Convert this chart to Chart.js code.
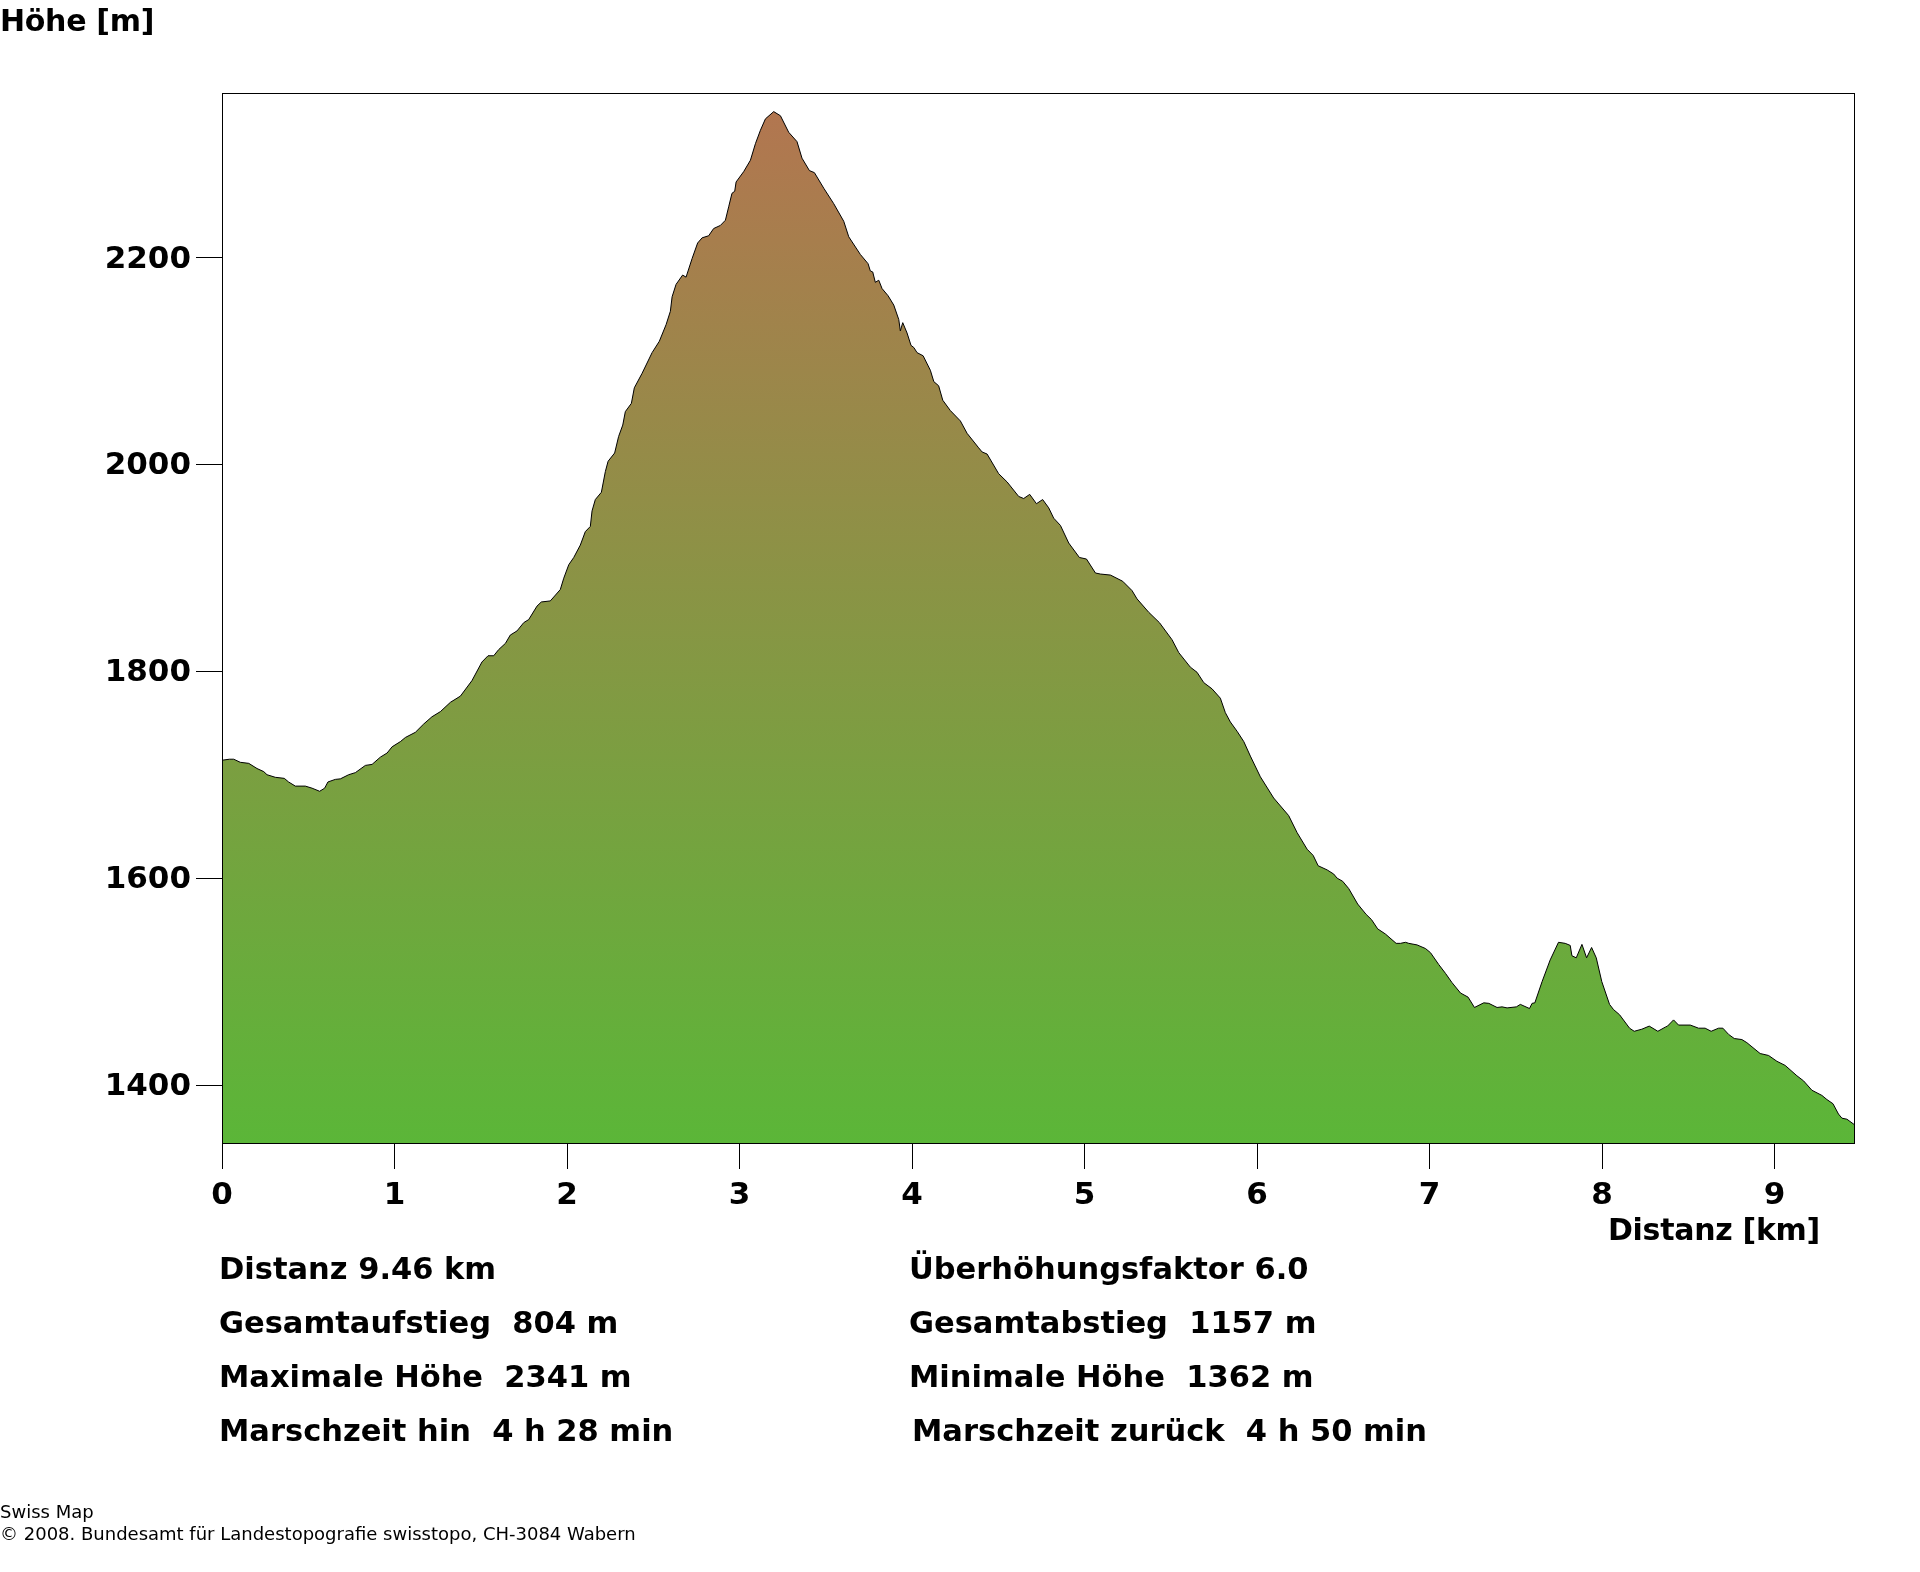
<!DOCTYPE html>
<html lang="de">
<head>
<meta charset="utf-8">
<title>Höhenprofil</title>
<script src="https://cdn.jsdelivr.net/npm/chart.js@4/dist/chart.umd.min.js"></script>
<style>
    html, body { margin: 0; padding: 0; background: #fff; }
    #page { position: relative; width: 1920px; height: 1572px; overflow: hidden; }
    #profile { position: absolute; left: 0; top: 0; }
    .label {
        position: absolute;
        white-space: pre;
        color: #000;
        font-family: "DejaVu Sans", sans-serif;
        font-weight: bold;
        font-size: 30.5px;
        line-height: 40px;
    }
    .title { font-size: 30px; letter-spacing: -0.3px; }
    .small { font-weight: normal; font-size: 18px; line-height: 22px; }
</style>
</head>
<body>
<div id="page">
    <canvas id="profile" width="1920" height="1572"></canvas>
</div>
<script>
// Profile: distance in km, height in m
const distances = [
    0, 0.043, 0.068, 0.106, 0.155, 0.203, 0.242, 0.261, 0.309, 0.361, 0.386, 0.425, 0.483, 0.522, 0.566, 0.595,
    0.614, 0.657, 0.686, 0.734, 0.773, 0.831, 0.870, 0.918, 0.957, 0.986, 1.034, 1.063, 1.121, 1.169, 1.217, 1.266,
    1.324, 1.382, 1.449, 1.507, 1.542, 1.575, 1.604, 1.643, 1.671, 1.710, 1.749, 1.778, 1.826, 1.851, 1.903,
    1.961, 1.981, 2.010, 2.039, 2.077, 2.106, 2.135, 2.145, 2.164, 2.199, 2.222, 2.238, 2.276, 2.299, 2.323,
    2.338, 2.373, 2.390, 2.435, 2.493, 2.535, 2.574, 2.599, 2.609, 2.632, 2.670, 2.690, 2.725, 2.757, 2.783,
    2.821, 2.850, 2.889, 2.918, 2.937, 2.956, 2.972, 2.980, 3.024, 3.063, 3.092, 3.121, 3.150, 3.198, 3.237,
    3.285, 3.333, 3.362, 3.405, 3.434, 3.488, 3.546, 3.604, 3.633, 3.700, 3.745, 3.758, 3.772, 3.787, 3.807, 3.826,
    3.861, 3.894, 3.923, 3.932, 3.946, 3.971, 3.994, 4.010, 4.029, 4.064, 4.106, 4.126, 4.154, 4.178, 4.222,
    4.280, 4.319, 4.386, 4.406, 4.435, 4.502, 4.551, 4.618, 4.647, 4.682, 4.721, 4.757, 4.792, 4.821, 4.860,
    4.908, 4.970, 5.011, 5.063, 5.092, 5.150, 5.221, 5.275, 5.304, 5.372, 5.434, 5.507, 5.546, 5.613, 5.652,
    5.691, 5.739, 5.787, 5.816, 5.845, 5.884, 5.923, 5.961, 6.019, 6.096, 6.183, 6.232, 6.290, 6.325, 6.354,
    6.406, 6.444, 6.464, 6.496, 6.531, 6.583, 6.632, 6.663, 6.699, 6.744, 6.806, 6.831, 6.860, 6.879, 6.927,
    6.976, 7.005, 7.053, 7.092, 7.130, 7.179, 7.223, 7.260, 7.314, 7.343, 7.391, 7.420, 7.449, 7.503, 7.526,
    7.579, 7.594, 7.610, 7.652, 7.699, 7.747, 7.786, 7.815, 7.825, 7.850, 7.883, 7.910, 7.939, 7.966, 7.998,
    8.043, 8.066, 8.101, 8.159, 8.186, 8.230, 8.273, 8.323, 8.366, 8.379, 8.414, 8.443, 8.511, 8.559, 8.597,
    8.632, 8.675, 8.700, 8.733, 8.766, 8.810, 8.839, 8.916, 8.965, 9.013, 9.061, 9.129, 9.168, 9.216, 9.274,
    9.303, 9.338, 9.370, 9.390, 9.419, 9.46
];
const heights = [
    1714, 1715, 1715, 1712, 1711, 1706, 1703, 1700, 1697.5, 1696.5, 1693, 1689, 1689, 1687, 1684, 1687,
    1693, 1695.5, 1696, 1700, 1702, 1709, 1710, 1717, 1721, 1727, 1732, 1736, 1741, 1749, 1756, 1761,
    1770, 1776, 1791, 1809, 1815, 1815, 1821, 1827, 1835, 1839, 1847, 1850, 1863, 1867, 1868,
    1879, 1890, 1903, 1910, 1922, 1935, 1940, 1955, 1966, 1973, 1993, 2003, 2011, 2027, 2038,
    2051, 2059, 2074, 2088, 2108, 2119, 2135, 2148, 2162, 2174, 2183, 2181, 2199, 2214, 2219,
    2221, 2228, 2231, 2236, 2249, 2262, 2264, 2273, 2283, 2294, 2310, 2323, 2334, 2341, 2337,
    2321, 2312, 2296, 2284, 2282, 2267, 2252, 2235, 2220, 2203, 2194, 2187, 2186, 2176, 2178, 2170,
    2163, 2154, 2140, 2129, 2137, 2127, 2115, 2113, 2108, 2105, 2091, 2080, 2076, 2062, 2052,
    2042, 2030, 2016, 2012, 2010, 1991, 1983, 1969, 1967, 1971, 1962, 1966, 1958, 1948, 1941,
    1924, 1910, 1908.5, 1895, 1894, 1893, 1887, 1878, 1870, 1857, 1847, 1830.5, 1818, 1804, 1799,
    1789, 1783, 1774, 1760, 1751, 1742, 1732, 1718, 1698, 1677.5, 1660.5, 1644, 1628, 1622, 1612,
    1608, 1604, 1600, 1597, 1590, 1575, 1565, 1560, 1551, 1546, 1537, 1537, 1538, 1537, 1535.5,
    1532, 1528, 1516.5, 1508, 1499, 1489, 1485, 1475, 1479.5, 1479, 1475, 1475.6, 1474.6, 1475.6, 1478,
    1474, 1479, 1479.5, 1500, 1521, 1538, 1537, 1535, 1525, 1523, 1536, 1523, 1533, 1523, 1500,
    1478, 1473, 1468, 1455, 1452, 1454, 1457, 1452, 1456, 1457, 1463, 1458, 1458, 1455, 1455,
    1452, 1455, 1455, 1449, 1445, 1444, 1441, 1430.5, 1428.6, 1423, 1419, 1409, 1404, 1395, 1390,
    1386, 1382, 1372, 1368, 1367, 1362
];

// Axis ranges and ticks
const xRange = [0, 9.46];
const yRange = [1344, 2359];
const xTicks = [0, 1, 2, 3, 4, 5, 6, 7, 8, 9];
const yTicks = [1400, 1600, 1800, 2000, 2200];

// Text around the chart
const yTitle = 'Höhe [m]';
const xTitle = 'Distanz [km]';
const statsLeft = ['Distanz 9.46 km', 'Gesamtaufstieg  804 m', 'Maximale Höhe  2341 m', 'Marschzeit hin  4 h 28 min'];
const statsRight = ['Überhöhungsfaktor 6.0', 'Gesamtabstieg  1157 m', 'Minimale Höhe  1362 m', 'Marschzeit zurück  4 h 50 min'];
const creditLines = ['Swiss Map', '© 2008. Bundesamt für Landestopografie swisstopo, CH-3084 Wabern'];

// Function to place a text on the page, y is the middle of the line
function addLabel(text, x, y, className, lineHeight) {
    const el = document.createElement('div');
    el.className = 'label ' + className;
    el.textContent = text;
    el.style.left = x + 'px';
    el.style.top = (y - lineHeight / 2) + 'px';
    document.getElementById('page').appendChild(el);
}

addLabel(yTitle, 0, 21, 'title', 40);
addLabel(xTitle, 1608, 1230, 'title', 40);
statsLeft.forEach((text, i) => addLabel(text, 219, 1268.5 + i * 54.2, '', 40));
statsRight.forEach((text, i) => addLabel(text, i === 3 ? 912 : 909, 1268.5 + i * 54.2, '', 40));
creditLines.forEach((text, i) => addLabel(text, 0, 1512 + i * 22, 'small', 22));

// Green at the valley floor, brown at the summit
function heightGradient(context) {
    const chart = context.chart;
    if (!chart.chartArea) return '#5bb638';
    const y = chart.scales.y;
    const gradient = chart.ctx.createLinearGradient(0, y.bottom, 0, y.getPixelForValue(2341));
    gradient.addColorStop(0, '#5bb638');
    gradient.addColorStop(1, '#b27650');
    return gradient;
}

// Thin black frame around the plot
const framePlugin = {
    id: 'frame',
    afterDatasetsDraw(chart) {
        const { ctx, chartArea } = chart;
        ctx.save();
        ctx.strokeStyle = '#000';
        ctx.lineWidth = 1;
        ctx.strokeRect(chartArea.left + 0.5, chartArea.top + 0.5, chartArea.right - chartArea.left, chartArea.bottom - chartArea.top);
        ctx.restore();
    }
};

const tickFont = { family: '"DejaVu Sans", sans-serif', weight: 'bold', size: 31 };

new Chart(document.getElementById('profile').getContext('2d'), {
    type: 'line',
    data: {
        datasets: [{
            data: distances.map((d, i) => ({ x: d, y: heights[i] })),
            borderColor: '#000',
            borderWidth: 1,
            tension: 0,
            pointRadius: 0,
            fill: 'start',
            backgroundColor: heightGradient
        }]
    },
    plugins: [framePlugin],
    options: {
        responsive: false,
        animation: false,
        devicePixelRatio: 1,
        layout: { padding: { left: 0, top: 93, right: 66, bottom: 359 } },
        plugins: { legend: { display: false }, tooltip: { enabled: false } },
        scales: {
            x: {
                type: 'linear',
                min: xRange[0],
                max: xRange[1],
                afterBuildTicks: scale => { scale.ticks = xTicks.map(v => ({ value: v })); },
                afterFit: scale => { scale.height = 70; },
                border: { color: '#000', width: 1 },
                grid: { drawOnChartArea: false, color: '#000', tickLength: 26, lineWidth: 1 },
                ticks: { color: '#000', font: tickFont, padding: 8, maxRotation: 0, autoSkip: false, callback: value => String(value) }
            },
            y: {
                min: yRange[0],
                max: yRange[1],
                afterBuildTicks: scale => { scale.ticks = yTicks.map(v => ({ value: v })); },
                afterFit: scale => { scale.width = 222; },
                border: { color: '#000', width: 1 },
                grid: { drawOnChartArea: false, color: '#000', tickLength: 26, lineWidth: 1 },
                ticks: { color: '#000', font: tickFont, padding: 5, labelOffset: 2, autoSkip: false, callback: value => String(value) }
            }
        }
    }
});
</script>
</body>
</html>
